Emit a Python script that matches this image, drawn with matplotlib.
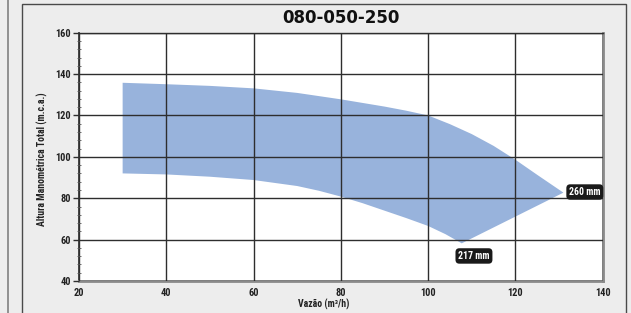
import matplotlib
matplotlib.use("Agg")
import matplotlib.pyplot as plt
from matplotlib import font_manager
from matplotlib.patches import Rectangle
from matplotlib.lines import Line2D

# ---- data ----
title = "080-050-250"
x_label = "Vazão (m³/h)"
y_label = "Altura Manométrica Total (m.c.a.)"
x_ticks = [20, 40, 60, 80, 100, 120, 140]
y_ticks = [40, 60, 80, 100, 120, 140, 160]

# upper boundary (260 mm impeller curve)
upper_q = [30, 40, 50, 60, 70, 80, 90, 95, 100, 105, 110, 115, 120, 125, 131]
upper_h = [135.8, 135.1, 134.3, 133.1, 130.9, 127.8, 124.3, 122.3, 120.0, 115.8, 111.0, 105.3,
           98.6, 91.3, 82.7]
# lower boundary (217 mm impeller curve)
lower_q = [30, 40, 50, 60, 70, 75, 80, 85, 90, 95, 100, 104, 107.7]
lower_h = [92.0, 91.5, 90.4, 88.8, 85.9, 83.6, 80.8, 77.6, 74.0, 70.4, 66.6, 62.6, 58.2]

label_260 = "260 mm"
label_217 = "217 mm"
label_260_pos = (135.9, 83.0)
label_217_pos = (110.5, 52.1)

# ---- fonts ----
fl = font_manager.fontManager.ttflist
names = {f.name for f in fl}
narrow_kw = dict(family="DejaVu Sans")
for cand in ["Liberation Sans Narrow", "Roboto Condensed", "Open Sans Condensed", "Noto Sans Condensed"]:
    if cand in names:
        narrow_kw = dict(family=cand)
        break
else:
    if any(f.name == "DejaVu Sans" and "ondensed" in str(f.stretch) or
           (f.name == "DejaVu Sans" and str(f.stretch) in ("condensed", "semi-condensed", "500", "600"))
           for f in fl):
        narrow_kw = dict(family="DejaVu Sans", fontstretch="condensed")

W, H = 631, 313
fig = plt.figure(figsize=(W / 100, H / 100), dpi=100)
bg = "#ededed"
fig.patch.set_facecolor(bg)

# panel frames
fig.add_artist(Line2D([7.5 / W, 7.5 / W], [0, 1], color="#808080", lw=1.2,
                      transform=fig.transFigure, zorder=-5))
fig.add_artist(Rectangle((22 / W, -0.05), (626 - 22) / W, 1 - 4 / H + 0.05,
                         transform=fig.transFigure, facecolor=bg, edgecolor="#4a4a4a",
                         lw=1.0, zorder=-5))

ax = fig.add_axes([79 / W, 1 - 281 / H, (602.7 - 79) / W, (281 - 32.7) / H])
ax.set_zorder(1)
ax.set_facecolor("white")

poly_q = upper_q + lower_q[::-1]
poly_h = upper_h + lower_h[::-1]
ax.fill(poly_q, poly_h, color="#98b3dc", lw=0, zorder=1)

ax.set_xlim(20, 140)
ax.set_ylim(40, 160)
ax.set_xticks(x_ticks)
ax.set_yticks(y_ticks)
ax.set_yticks(range(40, 161, 4), minor=True)
ax.grid(True, which="major", color="#2e2e2e", lw=1.0, zorder=2)
ax.set_axisbelow(False)

for lab in ax.get_xticklabels() + ax.get_yticklabels():
    lab.set_fontproperties(font_manager.FontProperties(weight="bold", size=7.5, **{
        ("stretch" if k == "fontstretch" else k): v for k, v in narrow_kw.items()}))
    lab.set_color("#222222")
ax.tick_params(axis="x", length=0, pad=5)
ax.tick_params(axis="y", which="major", length=4, width=1, color="#2e2e2e", pad=1.5, direction="out")
ax.tick_params(axis="y", which="minor", length=3, width=0.6, color="#555555", direction="inout")

ax.spines["left"].set_color("#333333")
ax.spines["left"].set_linewidth(1.3)
ax.spines["top"].set_color("#333333")
ax.spines["top"].set_linewidth(1.0)
ax.spines["bottom"].set_color("#8a8a8a")
ax.spines["bottom"].set_linewidth(2.0)
ax.spines["right"].set_color("#8a8a8a")
ax.spines["right"].set_linewidth(2.0)

box = dict(boxstyle="round,pad=0.28,rounding_size=0.4", fc="#1a1a1a", ec="none")
ax.text(*label_260_pos, label_260, ha="center", va="center", color="white", fontsize=7,
        fontweight="bold", bbox=box, zorder=5, **narrow_kw)
ax.text(*label_217_pos, label_217, ha="center", va="center", color="white", fontsize=7,
        fontweight="bold", bbox=box, zorder=5, **narrow_kw)

fig.text(341 / W, 1 - 18 / H, title, ha="center", va="center", fontsize=12, fontweight="heavy",
         family="DejaVu Sans", color="#111111")
fig.text(324 / W, 1 - 304 / H, x_label, ha="center", va="center", fontsize=7, fontweight="bold",
         color="#222222", **narrow_kw)
fig.text(42 / W, 1 - 159 / H, y_label, ha="center", va="center", rotation=90, fontsize=7,
         fontweight="bold", color="#222222", **narrow_kw)

fig.savefig("out.png", dpi=100, facecolor=bg)
